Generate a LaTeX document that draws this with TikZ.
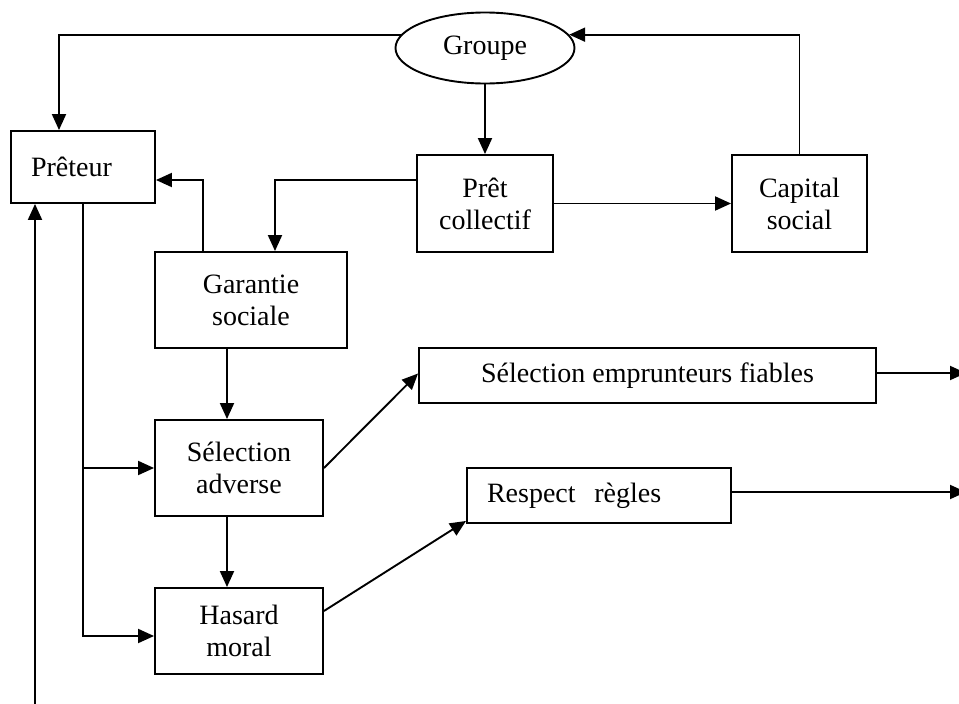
\documentclass[tikz,border=0pt]{standalone}
\usepackage{fontspec}
\setmainfont{Liberation Serif}
\usetikzlibrary{arrows.meta,shapes.geometric}

\begin{document}
\begin{tikzpicture}[x=1pt, y=-1pt,
        box/.style={draw, line width=1.9pt, inner sep=0pt, align=center,
            font=\fontsize{28}{32}\selectfont},
        lbox/.style={box, align=left, inner xsep=20pt},
        oval/.style={draw, ellipse, line width=1.9pt, inner sep=0pt,
            font=\fontsize{28}{32}\selectfont},
        arr/.style={line width=1.9pt, -{Triangle[length=16pt, width=14pt]}}]
        \useasboundingbox (0, 0) rectangle (959, 704);

        \node[oval, minimum width=179pt, minimum height=71pt] (groupe) at (485, 48) {Groupe};
        \node[lbox, text width=104pt, minimum height=72pt] (preteur) at (83, 167) {Prêteur};
        \node[box, minimum width=136pt, minimum height=97pt] (pret) at (485, 203.5) {Prêt\\collectif};
        \node[box, minimum width=135pt, minimum height=97pt] (capital) at (799.5, 203.5) {Capital\\social};
        \node[box, minimum width=192pt, minimum height=96pt] (garantie) at (251, 300) {Garantie\\sociale};
        \node[box, minimum width=168pt, minimum height=96pt] (selection) at (239, 468) {Sélection\\adverse};
        \node[box, minimum width=168pt, minimum height=86pt] (hasard) at (239, 631) {Hasard\\moral};
        \node[box, minimum width=457pt, minimum height=55pt] (fiables) at (647.5, 375.5) {Sélection emprunteurs fiables};
        \node[lbox, text width=224pt, minimum height=55pt] (regles) at (599, 495.5) {Respect\ \ règles};

        % free ends
        \coordinate (out1) at (966, 373);
        \coordinate (out2) at (966, 492);
        \coordinate (in1) at (35, 708);

        \draw[arr] (groupe.171) -| ([xshift=-24pt]preteur.north);
        \draw[arr] (capital.north) |- (groupe.9);
        \draw[arr] (groupe.south) -- (pret.north);
        \draw[arr] ([yshift=23.5pt]pret.west) -| ([xshift=24pt]garantie.north);
        \draw[arr] ([xshift=-48pt]garantie.north) |- ([yshift=-13pt]preteur.east);
        \draw[arr] (pret.east) -- (capital.west);
        \draw[arr] ([xshift=-24pt]garantie.south) -- ([xshift=-12pt]selection.north);
        \draw[arr] ([xshift=-12pt]selection.south) -- ([xshift=-12pt]hasard.north);
        \draw[arr] (preteur.south) |- ([yshift=-5pt]hasard.west);
        \draw[arr] (preteur.south |- selection.west) -- (selection.west);
        \draw[arr] (selection.east) -- ([yshift=2pt]fiables.west);
        \draw[arr] ([yshift=20pt]hasard.east) -- ([yshift=3pt]regles.south west);
        \draw[arr] ([yshift=2.5pt]fiables.east) -- (out1);
        \draw[arr] ([yshift=3.5pt]regles.east) -- (out2);
        \draw[arr] (in1) -- (in1 |- preteur.south);
    \end{tikzpicture}
\end{document}
